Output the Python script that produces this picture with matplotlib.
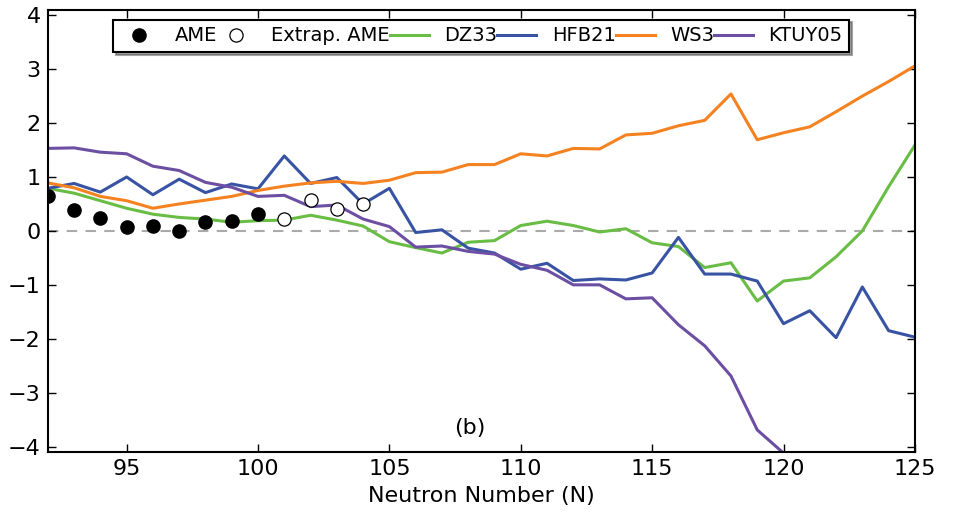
import matplotlib
matplotlib.use("Agg")
import matplotlib.pyplot as plt

# Neutron numbers
n_ame = [92, 93, 94, 95, 96, 97, 98, 99, 100]
ame = [0.64, 0.39, 0.24, 0.08, 0.10, 0.00, 0.16, 0.18, 0.31]

n_extrap = [101, 102, 103, 104]
extrap_ame = [0.23, 0.57, 0.41, 0.50]

n_models = list(range(92, 126))
dz33 = [0.79, 0.70, 0.56, 0.42, 0.31, 0.25, 0.22, 0.16, 0.19, 0.20,
        0.29, 0.20, 0.09, -0.20, -0.31, -0.41, -0.21, -0.18, 0.10, 0.18,
        0.10, -0.02, 0.04, -0.22, -0.29, -0.68, -0.59, -1.30, -0.93, -0.87,
        -0.48, 0.00, 0.82, 1.59]
hfb21 = [0.79, 0.88, 0.72, 1.00, 0.67, 0.96, 0.71, 0.87, 0.78, 1.39,
         0.88, 0.99, 0.50, 0.79, -0.03, 0.02, -0.32, -0.41, -0.71, -0.60,
         -0.92, -0.89, -0.91, -0.78, -0.12, -0.80, -0.80, -0.93, -1.72, -1.48,
         -1.98, -1.04, -1.85, -1.97]
ws3 = [0.89, 0.80, 0.64, 0.56, 0.42, 0.50, 0.57, 0.64, 0.75, 0.83,
       0.89, 0.92, 0.88, 0.94, 1.08, 1.09, 1.23, 1.23, 1.43, 1.39,
       1.53, 1.52, 1.78, 1.81, 1.95, 2.05, 2.54, 1.69, 1.82, 1.93,
       2.21, 2.50, 2.77, 3.06]
n_ktuy = list(range(92, 121))
ktuy05 = [1.53, 1.54, 1.46, 1.43, 1.20, 1.12, 0.90, 0.81, 0.64, 0.66,
          0.45, 0.48, 0.22, 0.08, -0.30, -0.28, -0.38, -0.43, -0.62, -0.73,
          -1.00, -1.00, -1.26, -1.24, -1.74, -2.13, -2.69, -3.69, -4.12]

fig = plt.figure(figsize=(9.56, 5.16), dpi=100)
ax = fig.add_axes([0.050, 0.124, 0.907, 0.857])

ax.axhline(0, color="#aaaaaa", lw=1.5, ls=(0, (5, 4)), zorder=1)

ax.plot(n_ame, ame, "o", color="black", ms=9.5, ls="none", label="AME", zorder=5)
ax.plot(n_extrap, extrap_ame, "o", mfc="white", mec="black", mew=0.9, ms=9.5,
        ls="none", label="Extrap. AME", zorder=5)
ax.plot(n_models, dz33, color="#69bd45", lw=2.2, label="DZ33")
ax.plot(n_models, hfb21, color="#3953a4", lw=2.2, label="HFB21")
ax.plot(n_models, ws3, color="#f58220", lw=2.2, label="WS3")
ax.plot(n_ktuy, ktuy05, color="#6c4fa3", lw=2.2, label="KTUY05")

ax.set_xlim(92, 125)
ax.set_ylim(-4.1, 4.1)
ax.set_xticks([95, 100, 105, 110, 115, 120, 125])
ax.set_yticks([-4, -3, -2, -1, 0, 1, 2, 3, 4])
ax.tick_params(direction="in", length=6, width=1, top=True, right=True,
               labelsize=16, pad=5)
for s in ax.spines.values():
    s.set_linewidth(1.5)

ax.set_xlabel("Neutron Number (N)", fontsize=16, labelpad=5)
ax.text(108.05, -3.65, "(b)", fontsize=16, ha="center", va="center")

leg = ax.legend(loc="upper center", bbox_to_anchor=(0.5, 1.0), ncol=6,
                fontsize=14, frameon=True, fancybox=False, shadow=True,
                framealpha=1, edgecolor="black", handlelength=2.0,
                columnspacing=0.0, handletextpad=0.8, borderpad=0.35,
                numpoints=1, borderaxespad=0.5)
leg.get_frame().set_linewidth(1.5)

fig.savefig("out.png", dpi=100)
